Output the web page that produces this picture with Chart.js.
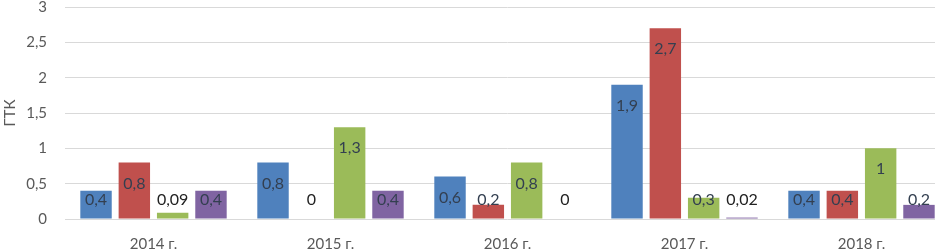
<!DOCTYPE html>
<html><head><meta charset="utf-8">
<script src="https://cdn.jsdelivr.net/npm/chart.js@4/dist/chart.umd.min.js"></script>
<style>
html,body{margin:0;padding:0;background:#fff;overflow:hidden;width:935px;height:250px;}
#wrap{position:relative;width:950px;height:270px;margin-top:-20px;}
</style></head>
<body><div id="wrap"><canvas id="c" width="950" height="270"></canvas></div>
<script>
const categories = ["2014 г.", "2015 г.", "2016 г.", "2017 г.", "2018 г."];
const series1 = [0.4, 0.8, 0.6, 1.9, 0.4];
const series2 = [0.8, 0, 0.2, 2.7, 0.4];
const series3 = [0.09, 1.3, 0.8, 0.3, 1];
const series4 = [0.4, 0.4, 0, 0.02, 0.2];
const yTicks = [0, 0.5, 1, 1.5, 2, 2.5, 3];
const colors = ["#4F81BD", "#C0504D", "#9BBB59", "#8064A2"];
const FONT = "Lato, 'Open Sans', sans-serif";

const fmt = v => String(v).replace('.', ',');

const labelPlugin = {
  id: 'barLabels',
  afterDatasetsDraw(chart) {
    const ctx = chart.ctx;
    const zero = chart.scales.y.getPixelForValue(0);
    ctx.save();
    ctx.font = "16px " + FONT;
    ctx.textAlign = 'center';
    ctx.textBaseline = 'middle';
    chart.data.datasets.forEach((ds, di) => {
      chart.getDatasetMeta(di).data.forEach((bar, i) => {
        const v = ds.data[i];
        const y = Math.min(bar.y + 21, zero - 19);
        const inside = (zero - bar.y) > 12;
        ctx.fillStyle = inside ? '#333f50' : '#222';
        ctx.fillText(fmt(v), bar.x, y);
      });
    });
    ctx.restore();
  }
};

new Chart(document.getElementById('c'), {
  type: 'bar',
  data: {
    labels: categories,
    datasets: [series1, series2, series3, series4].map((d, i) => ({
      data: d,
      backgroundColor: colors[i],
      borderWidth: 0,
      categoryPercentage: 0.866,
      barPercentage: 0.82
    }))
  },
  options: {
    responsive: false,
    animation: false,
    layout: { padding: { top: 0, right: 0, left: 0, bottom: 0 } },
    plugins: { legend: { display: false }, tooltip: { enabled: false } },
    scales: {
      x: {
        grid: { display: false, drawTicks: false },
        border: { display: false },
        ticks: { color: '#595959', font: { size: 15, family: FONT }, padding: 16 },
        afterFit(s) { s.height = 31; }
      },
      y: {
        min: 0, max: 3,
        afterBuildTicks(s) { s.ticks = yTicks.map(v => ({ value: v })); },
        grid: { color: '#d9d9d9', lineWidth: 1, drawTicks: false },
        border: { display: false },
        ticks: { color: '#595959', font: { size: 15, family: FONT }, padding: 18,
          callback: v => fmt(v) },
        title: { display: true, text: 'ГТК', color: '#595959', font: { size: 15, family: FONT }, padding: { top: 1, bottom: 0 } },
        afterFit(s) { s.width = 65; }
      }
    }
  },
  plugins: [labelPlugin]
});
</script></body></html>
